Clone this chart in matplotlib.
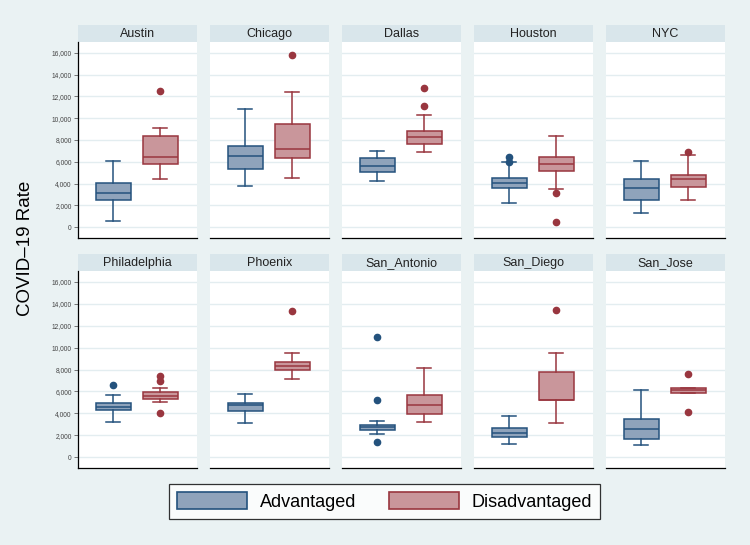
import matplotlib.pyplot as plt
from matplotlib.patches import Rectangle, Patch

plt.rcParams['font.family'] = ['Liberation Sans', 'DejaVu Sans']

cities = ["Austin", "Chicago", "Dallas", "Houston", "NYC",
          "Philadelphia", "Phoenix", "San_Antonio", "San_Diego", "San_Jose"]

# box summaries: (low whisker, Q1, median, Q3, high whisker)
adv_box = [(550, 2520, 3170, 4090, 6090),
           (3820, 5320, 6520, 7480, 10830),
           (4280, 5050, 5570, 6310, 7020),
           (2220, 3630, 4030, 4520, 5940),
           (1320, 2490, 3570, 4430, 6060),
           (3170, 4280, 4550, 4950, 5660),
           (3140, 4250, 4800, 4980, 5750),
           (2150, 2460, 2710, 2950, 3320),
           (1230, 1790, 2220, 2650, 3790),
           (1140, 1690, 2550, 3510, 6150)]
dis_box = [(4400, 5750, 6400, 8340, 9140),
           (4550, 6370, 7140, 9480, 12430),
           (6920, 7600, 8250, 8860, 10310),
           (3480, 5140, 5780, 6400, 8370),
           (2460, 3720, 4430, 4830, 6650),
           (5050, 5350, 5600, 5910, 6280),
           (7170, 7910, 8340, 8680, 9510),
           (3230, 3970, 4740, 5660, 8150),
           (3110, 5170, 5230, 7790, 9510),
           (5850, 5850, 6090, 6340, 6340)]
adv_out = [[], [], [], [6460, 6000], [], [6550], [], [10990, 5170, 1350], [], []]
dis_out = [[12520], [15790], [11080, 12770], [3110, 490], [6890],
           [7450, 6920, 4000], [13390], [], [13480], [7630, 4120]]

groups = ["Advantaged", "Disadvantaged"]

bg = "#eaf2f3"
strip = "#d9e6eb"
adv_edge, adv_fill = "#24527d", "#8fa3bb"
dis_edge, dis_fill = "#99363f", "#c9969b"

fig = plt.figure(figsize=(7.5, 5.45), dpi=100, facecolor=bg)
W, H = 750, 545


def stats(b, fl):
    lo, q1, med, q3, hi = b
    return dict(whislo=lo, q1=q1, med=med, q3=q3, whishi=hi, fliers=fl)


for i, city in enumerate(cities):
    row, col = divmod(i, 5)
    left = 78 + col * 132
    top = 42 if row == 0 else 271
    bottom = 238 if row == 0 else 468
    ax = fig.add_axes([left / W, 1 - bottom / H, 119 / W, (bottom - top) / H])
    ax.set_facecolor("white")
    for k, (b, fl, ec, fc) in enumerate([(adv_box[i], adv_out[i], adv_edge, adv_fill),
                                          (dis_box[i], dis_out[i], dis_edge, dis_fill)]):
        ax.bxp([stats(b, fl)], positions=[k + 1], widths=0.74, patch_artist=True,
               boxprops=dict(facecolor=fc, edgecolor=ec, linewidth=1.1),
               medianprops=dict(color=ec, linewidth=1.1),
               whiskerprops=dict(color=ec, linewidth=1.1),
               capprops=dict(color=ec, linewidth=1.1), capwidths=0.3,
               flierprops=dict(marker='o', markerfacecolor=ec, markeredgecolor=ec,
                               markersize=4.5))
    ax.set_xlim(0.25, 2.78)
    ax.set_ylim(-1000, 17000)
    ax.set_yticks(range(0, 16001, 2000))
    ax.set_xticks([])
    ax.grid(axis='y', color="#e3edf0", linewidth=1)
    ax.set_axisbelow(True)
    for s in ["top", "right"]:
        ax.spines[s].set_visible(False)
    ax.spines["bottom"].set_linewidth(0.9)
    if col == 0:
        ax.spines["left"].set_linewidth(0.9)
        ax.set_yticklabels([f"{v:,}" for v in range(0, 16001, 2000)])
        ax.tick_params(axis='y', labelsize=4.8, length=3, width=0.5, pad=1.5,
                       colors="#444444")
    else:
        ax.spines["left"].set_visible(False)
        ax.tick_params(axis='y', left=False, labelleft=False)
    # strip header
    sh = 17 / (bottom - top)
    ax.add_patch(Rectangle((0, 1), 1, sh, transform=ax.transAxes,
                           facecolor=strip, edgecolor='none', clip_on=False))
    ax.text(0.5, 1 + sh * 0.27, city, transform=ax.transAxes, ha='center',
            va='baseline', fontsize=9, color="#222222")

fig.text(26 / W, 1 - 248 / H, "COVID–19 Rate", rotation=90, ha='center',
         va='center', fontsize=13.5)

handles = [Patch(facecolor=adv_fill, edgecolor=adv_edge, linewidth=1.2),
           Patch(facecolor=dis_fill, edgecolor=dis_edge, linewidth=1.2)]
leg = fig.legend(handles, groups, loc='center', bbox_to_anchor=(384.5 / W, 1 - 501.5 / H),
                 ncol=2, fontsize=13, frameon=True, fancybox=False,
                 handlelength=3.9, handleheight=1.0, columnspacing=1.8,
                 borderpad=0.45, handletextpad=0.7)
leg.get_frame().set_edgecolor("black")
leg.get_frame().set_linewidth(0.9)

fig.savefig("out.png", dpi=100, facecolor=bg)
